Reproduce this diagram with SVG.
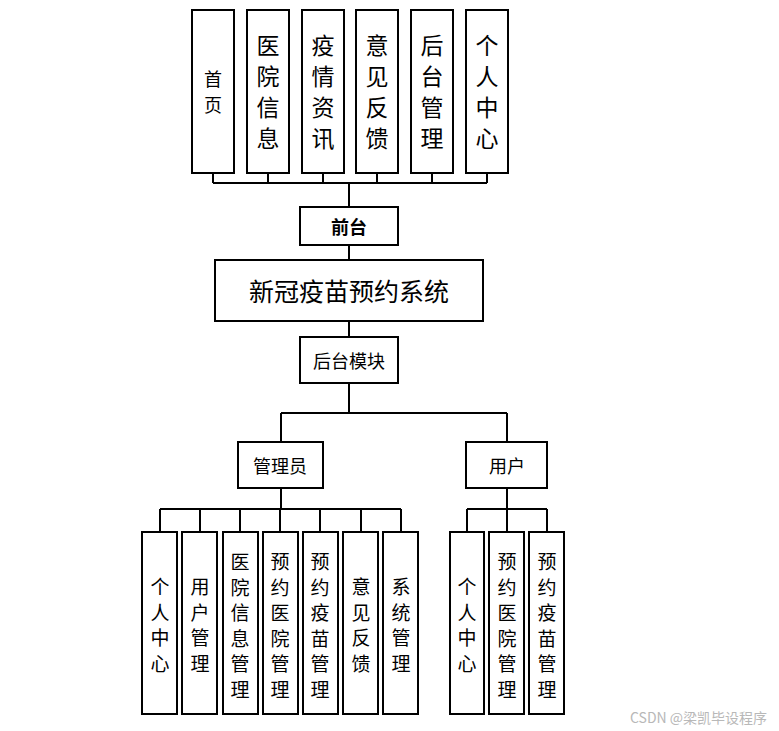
<svg xmlns="http://www.w3.org/2000/svg" width="779" height="731" viewBox="0 0 779 731">
<style>
.box{fill:#fff;stroke:#000;stroke-width:2}
.ln{fill:none;stroke:#000;stroke-width:2}
text{font-family:"Noto Sans CJK SC","Noto Sans",sans-serif;fill:#000;text-anchor:middle;dominant-baseline:central}
.t24{font-size:23px}
.t20{font-size:18px}
.t19{font-size:19px}
.t17{font-size:18px}
.wm{font-size:14px;fill:#b8b8b8;text-anchor:start}
</style>
<rect width="779" height="731" fill="#fff"/>
<g id="connectors">
<path class="ln" d="M213 173V183M268 173V183M323 173V183M377 173V183M432 173V183M487 173V183M213 183H487M349 183V207"/>
<path class="ln" d="M349 245V260M349 321V337M349 383V413M281 413H507M281 413V442M507 413V442"/>
<path class="ln" d="M281 488V509M160 509H401M160 509V532M200 509V532M240 509V532M280 509V532M320 509V532M361 509V532M401 509V532"/>
<path class="ln" d="M507 488V509M467 509H547M467 509V532M507 509V532M547 509V532"/>
</g>
<g id="n-home"><rect class="box" x="192" y="10" width="42" height="163"/><text class="t20"><tspan x="213" y="78">首</tspan><tspan x="213" y="104">页</tspan></text></g>
<g id="n-hosp"><rect class="box" x="247" y="10" width="42" height="163"/><text class="t24"><tspan x="268" y="44">医</tspan><tspan x="268" y="75">院</tspan><tspan x="268" y="106">信</tspan><tspan x="268" y="137">息</tspan></text></g>
<g id="n-news"><rect class="box" x="302" y="10" width="42" height="163"/><text class="t24"><tspan x="323" y="44">疫</tspan><tspan x="323" y="75">情</tspan><tspan x="323" y="106">资</tspan><tspan x="323" y="137">讯</tspan></text></g>
<g id="n-feedback"><rect class="box" x="356" y="10" width="42" height="163"/><text class="t24"><tspan x="377" y="44">意</tspan><tspan x="377" y="75">见</tspan><tspan x="377" y="106">反</tspan><tspan x="377" y="137">馈</tspan></text></g>
<g id="n-admin-mgmt"><rect class="box" x="411" y="10" width="42" height="163"/><text class="t24"><tspan x="432" y="44">后</tspan><tspan x="432" y="75">台</tspan><tspan x="432" y="106">管</tspan><tspan x="432" y="137">理</tspan></text></g>
<g id="n-personal"><rect class="box" x="466" y="10" width="42" height="163"/><text class="t24"><tspan x="487" y="44">个</tspan><tspan x="487" y="75">人</tspan><tspan x="487" y="106">中</tspan><tspan x="487" y="137">心</tspan></text></g>
<g id="n-front"><rect class="box" x="300" y="207" width="98" height="38"/><text class="t17" x="349" y="226" font-weight="bold">前台</text></g>
<g id="n-system"><rect class="box" x="215" y="260" width="268" height="61"/><text x="349" y="290" font-size="25">新冠疫苗预约系统</text></g>
<g id="n-backend"><rect class="box" x="300" y="337" width="98" height="46"/><text class="t17" x="349" y="360">后台模块</text></g>
<g id="n-admin"><rect class="box" x="238" y="442" width="85" height="46"/><text class="t17" x="280" y="465">管理员</text></g>
<g id="n-user"><rect class="box" x="466" y="442" width="81" height="46"/><text class="t17" x="507" y="465">用户</text></g>
<g id="a-personal"><rect class="box" x="142" y="532" width="35" height="182"/><text class="t19"><tspan x="160" y="585">个</tspan><tspan x="160" y="610.5">人</tspan><tspan x="160" y="636">中</tspan><tspan x="160" y="661.5">心</tspan></text></g>
<g id="a-users"><rect class="box" x="182" y="532" width="35" height="182"/><text class="t19"><tspan x="200" y="585">用</tspan><tspan x="200" y="610.5">户</tspan><tspan x="200" y="636">管</tspan><tspan x="200" y="661.5">理</tspan></text></g>
<g id="a-hosp"><rect class="box" x="223" y="532" width="35" height="182"/><text class="t19"><tspan x="240" y="560">医</tspan><tspan x="240" y="585.5">院</tspan><tspan x="240" y="611">信</tspan><tspan x="240" y="636.5">息</tspan><tspan x="240" y="662">管</tspan><tspan x="240" y="687.5">理</tspan></text></g>
<g id="a-resv-hosp"><rect class="box" x="263" y="532" width="35" height="182"/><text class="t19"><tspan x="280" y="560">预</tspan><tspan x="280" y="585.5">约</tspan><tspan x="280" y="611">医</tspan><tspan x="280" y="636.5">院</tspan><tspan x="280" y="662">管</tspan><tspan x="280" y="687.5">理</tspan></text></g>
<g id="a-resv-vac"><rect class="box" x="303" y="532" width="35" height="182"/><text class="t19"><tspan x="320" y="560">预</tspan><tspan x="320" y="585.5">约</tspan><tspan x="320" y="611">疫</tspan><tspan x="320" y="636.5">苗</tspan><tspan x="320" y="662">管</tspan><tspan x="320" y="687.5">理</tspan></text></g>
<g id="a-feedback"><rect class="box" x="343" y="532" width="35" height="182"/><text class="t19"><tspan x="361" y="585">意</tspan><tspan x="361" y="610.5">见</tspan><tspan x="361" y="636">反</tspan><tspan x="361" y="661.5">馈</tspan></text></g>
<g id="a-sys"><rect class="box" x="383" y="532" width="35" height="182"/><text class="t19"><tspan x="401" y="585">系</tspan><tspan x="401" y="610.5">统</tspan><tspan x="401" y="636">管</tspan><tspan x="401" y="661.5">理</tspan></text></g>
<g id="u-personal"><rect class="box" x="450" y="532" width="34" height="182"/><text class="t19"><tspan x="467" y="585">个</tspan><tspan x="467" y="610.5">人</tspan><tspan x="467" y="636">中</tspan><tspan x="467" y="661.5">心</tspan></text></g>
<g id="u-resv-hosp"><rect class="box" x="489" y="532" width="35" height="182"/><text class="t19"><tspan x="507" y="560">预</tspan><tspan x="507" y="585.5">约</tspan><tspan x="507" y="611">医</tspan><tspan x="507" y="636.5">院</tspan><tspan x="507" y="662">管</tspan><tspan x="507" y="687.5">理</tspan></text></g>
<g id="u-resv-vac"><rect class="box" x="529" y="532" width="35" height="182"/><text class="t19"><tspan x="547" y="560">预</tspan><tspan x="547" y="585.5">约</tspan><tspan x="547" y="611">疫</tspan><tspan x="547" y="636.5">苗</tspan><tspan x="547" y="662">管</tspan><tspan x="547" y="687.5">理</tspan></text></g>
<text class="wm" x="630" y="717">CSDN @梁凯毕设程序</text>
</svg>
